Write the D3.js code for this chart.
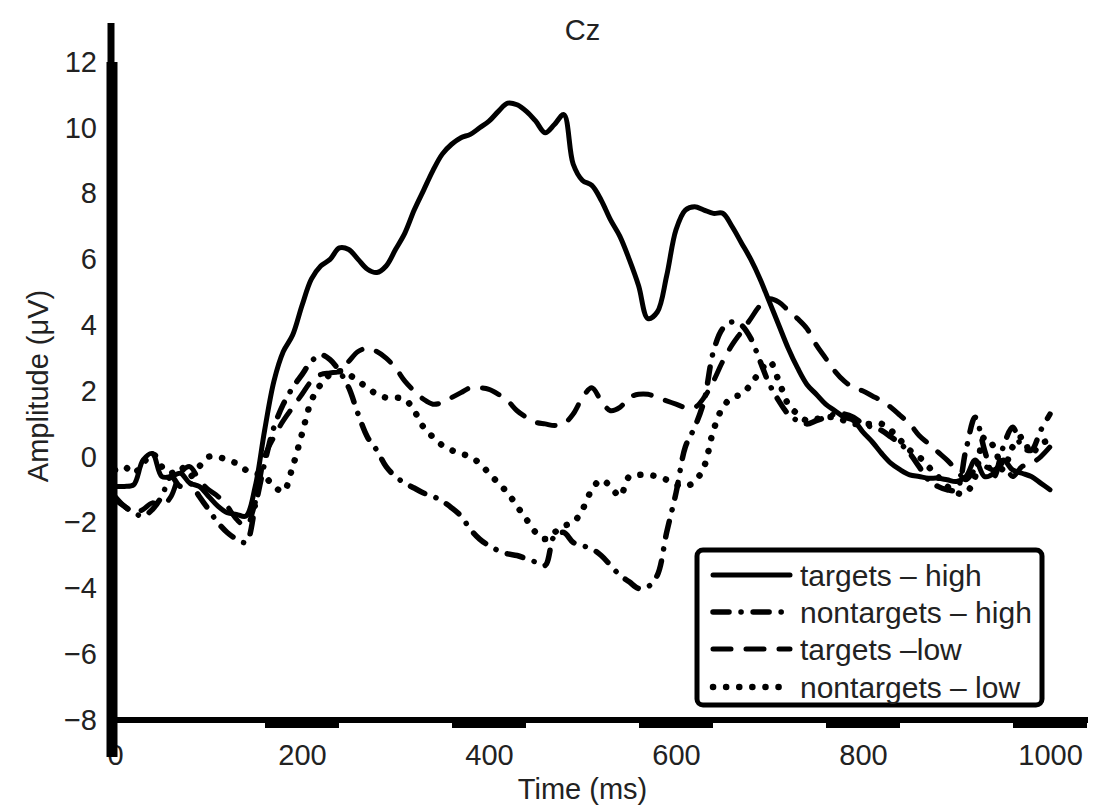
<!DOCTYPE html>
<html>
<head>
<meta charset="utf-8">
<script src="https://cdn.jsdelivr.net/npm/d3@7"></script>
<style>
  body { margin: 0; background: #fff; }
  text { font-family: "Liberation Sans", Arial, Helvetica, sans-serif; fill: #222; }
</style>
</head>
<body>
<script>
// sample grid of the ERP traces (ms)
const timeMs = d3.range(0, 1001, 10);

// amplitudes in microvolts, one value per 10 ms
const targetsHigh = [
  -0.9, -0.9, -0.85, -0.1, 0.1, -0.6, -0.6, -0.5, -0.8, -0.9,
  -1.2, -1.5, -1.7, -1.75, -1.8, -0.9, 0.8, 2.3, 3.2, 3.7,
  4.6, 5.4, 5.8, 6.0, 6.35, 6.3, 6.0, 5.7, 5.6, 5.8,
  6.3, 6.8, 7.5, 8.1, 8.7, 9.2, 9.5, 9.7, 9.8, 10.0,
  10.2, 10.5, 10.75, 10.7, 10.5, 10.2, 9.85, 10.1, 10.4, 8.9,
  8.4, 8.25, 7.8, 7.2, 6.7, 6.0, 5.2, 4.2, 4.4, 5.5,
  6.9, 7.5, 7.6, 7.5, 7.4, 7.4, 7.0, 6.5, 6.0, 5.4,
  4.7, 4.0, 3.3, 2.7, 2.2, 1.9, 1.6, 1.4, 1.2, 1.1,
  0.75, 0.45, 0.1, -0.2, -0.4, -0.55, -0.6, -0.65, -0.65, -0.7,
  -0.75, -0.6, -0.1, -0.6, -0.5, -0.1, -0.4, -0.5, -0.6, -0.8,
  -1.0
];

const nontargetsHigh = [
  -1.3, -1.5, -1.7, -1.8, -1.6, -1.2, -0.6, -0.9, -0.8, -1.2,
  -1.6, -2.0, -2.3, -2.5, -2.6, -1.5, -0.2, 0.9, 1.6, 2.1,
  2.5, 2.9, 3.1, 2.95, 2.6, 2.1, 1.3, 0.6, 0.2, -0.3,
  -0.6, -0.8, -0.95, -1.1, -1.2, -1.35, -1.55, -1.8, -2.2, -2.5,
  -2.7, -2.85, -2.95, -3.0, -3.1, -3.2, -3.3, -2.4, -2.3, -2.6,
  -2.7, -2.8, -3.0, -3.3, -3.6, -3.8, -4.0, -3.95, -3.6, -2.3,
  -1.1, 0.3, 0.9, 1.7, 3.2, 3.9, 4.1, 4.0, 3.6, 2.9,
  2.2, 1.7, 1.3, 1.1, 1.0, 1.1, 1.2, 1.3, 1.3, 1.2,
  1.0, 0.9, 0.8, 0.6, 0.4, 0.1, -0.3, -0.7, -0.9, -1.0,
  -1.0, 0.2, 1.2, 0.2, -0.6, 0.3, 0.9, 0.3, 0.2, 0.8,
  1.3
];

const targetsLow = [
  -1.2, -1.5, -1.7, -1.6, -1.4, -1.5, -1.2, -0.5, -0.3, -0.7,
  -1.0, -1.2, -1.5, -1.9, -2.1, -1.4, 0.0, 0.6, 1.1, 1.5,
  1.9, 2.3, 2.5, 2.55, 2.6, 2.9, 3.2, 3.3, 3.2, 3.0,
  2.7, 2.3, 2.0, 1.75, 1.6, 1.65, 1.8, 1.95, 2.1, 2.1,
  2.05, 1.9, 1.7, 1.4, 1.2, 1.05, 1.0, 0.95, 1.0, 1.3,
  1.8, 2.1, 1.7, 1.4, 1.5, 1.8, 1.9, 1.9, 1.8, 1.7,
  1.6, 1.5, 1.5, 1.8, 2.3, 2.9, 3.4, 3.8, 4.2, 4.6,
  4.8, 4.7, 4.45, 4.2, 3.9, 3.4, 3.0, 2.6, 2.3, 2.1,
  2.0, 1.85, 1.7, 1.5, 1.25, 1.0, 0.65, 0.4, 0.15, -0.1,
  -0.4, -0.7, -0.4, -0.3, -0.4, -0.2, -0.6, -0.3, -0.2, 0.0,
  0.3
];

const nontargetsLow = [
  -0.4, -0.3, -0.5, -0.2, 0.1, -0.3, -0.5, -0.3, -0.6, -0.3,
  0.0, 0.0, -0.1, -0.2, -0.4, -0.5, -0.6, -0.9, -1.05, -0.3,
  0.7, 1.7, 2.2, 2.5, 2.6, 2.5, 2.3, 2.1, 1.9, 1.8,
  1.8, 1.75, 1.4, 0.9, 0.6, 0.35, 0.2, 0.1, 0.0, -0.2,
  -0.5, -0.8, -1.1, -1.5, -1.9, -2.3, -2.5, -2.3, -2.1, -2.0,
  -1.6, -1.0, -0.7, -0.9, -1.2, -0.6, -0.55, -0.55, -0.6, -0.7,
  -0.85, -0.9, -0.75, -0.3, 0.8, 1.5, 1.8, 1.9, 2.2, 2.6,
  2.9, 2.3, 1.6, 1.3, 1.1, 1.15, 1.2, 1.2, 1.1, 1.0,
  1.0, 1.0, 1.0, 0.8, 0.5, 0.2, 0.0, -0.3, -0.6, -0.9,
  -1.1, -1.1, -0.6, 0.6, 0.3, -0.4, 0.3, 0.6, 0.1, 0.4,
  0.5
];

const seriesNames = ['targets \u2013 high', 'nontargets \u2013 high', 'targets \u2013low', 'nontargets \u2013 low'];
const xTicks = [0, 200, 400, 600, 800, 1000];
const yTicks = [-8, -6, -4, -2, 0, 2, 4, 6, 8, 10, 12];

const width = 1094;
const height = 809;

const series = [
  { name: seriesNames[0], values: targetsHigh, dash: null, sw: 5 },
  { name: seriesNames[1], values: nontargetsHigh, dash: '16 12 0.1 12', sw: 5.5 },
  { name: seriesNames[2], values: targetsLow, dash: '18 15', sw: 5 },
  { name: seriesNames[3], values: nontargetsLow, dash: '0.1 13', sw: 6.5 }
];

const x = d3.scaleLinear().domain([0, 1000]).range([115, 1050]);
const y = d3.scaleLinear().domain([-8, 12]).range([720, 62]);

const svg = d3.select('body')
  .append('svg')
  .attr('width', width)
  .attr('height', height);

// title
svg.append('text')
  .attr('x', x(500))
  .attr('y', 40)
  .attr('text-anchor', 'middle')
  .style('font-size', '29px')
  .text('Cz');

// traces
const line = d3.line()
  .x((d, i) => x(timeMs[i]))
  .y(d => y(d))
  .curve(d3.curveCatmullRom.alpha(0.5));

svg.selectAll('.trace')
  .data(series)
  .enter().append('path')
  .attr('class', 'trace')
  .attr('d', d => line(d.values))
  .attr('fill', 'none')
  .attr('stroke', '#000')
  .attr('stroke-width', d => d.sw)
  .attr('stroke-linejoin', 'round')
  .attr('stroke-linecap', 'round')
  .attr('stroke-dasharray', d => d.dash);

// axes (labels only, thick lines drawn separately)
const yAxis = svg.append('g')
  .attr('transform', `translate(112,0)`)
  .call(d3.axisLeft(y).tickValues(yTicks).tickSize(0).tickPadding(15));
yAxis.select('.domain').remove();
yAxis.selectAll('text').style('font-size', '29px').style('fill', '#222');

const xAxis = svg.append('g')
  .attr('transform', `translate(0,720)`)
  .call(d3.axisBottom(x).tickValues(xTicks).tickFormat(d3.format('d')).tickSize(0).tickPadding(24));
xAxis.select('.domain').remove();
xAxis.selectAll('text').style('font-size', '29px').style('fill', '#222');

// thick tick bars under the x axis
svg.selectAll('.tickbar')
  .data(xTicks.filter(d => d > 0))
  .enter().append('rect')
  .attr('class', 'tickbar')
  .attr('x', d => x(d) - 37)
  .attr('y', 717)
  .attr('width', 74)
  .attr('height', 11)
  .attr('fill', '#000');

svg.append('line')
  .attr('x1', 110).attr('x2', 1088)
  .attr('y1', 720).attr('y2', 720)
  .attr('stroke', '#000')
  .attr('stroke-width', 6);

svg.append('line')
  .attr('x1', 112).attr('x2', 112)
  .attr('y1', y(12)).attr('y2', 757)
  .attr('stroke', '#000')
  .attr('stroke-width', 11);

svg.append('line')
  .attr('x1', 111).attr('x2', 111)
  .attr('y1', 23).attr('y2', y(12))
  .attr('stroke', '#000')
  .attr('stroke-width', 7);

// axis titles
svg.append('text')
  .attr('x', x(500))
  .attr('y', 799)
  .attr('text-anchor', 'middle')
  .style('font-size', '29px')
  .text('Time (ms)');

svg.append('text')
  .attr('transform', `translate(48,${(y(-8) + y(12)) / 2 - 5}) rotate(-90)`)
  .attr('text-anchor', 'middle')
  .style('font-size', '29px')
  .text('Amplitude (\u03bcV)');

// legend
const legend = svg.append('g');

legend.append('rect')
  .attr('x', 697)
  .attr('y', 550)
  .attr('width', 345)
  .attr('height', 155)
  .attr('rx', 6)
  .attr('fill', '#fff')
  .attr('stroke', '#000')
  .attr('stroke-width', 5);

const rowY = [575, 612, 649, 687];

const item = legend.selectAll('.item')
  .data(series)
  .enter().append('g')
  .attr('class', 'item')
  .attr('transform', (d, i) => `translate(0,${rowY[i]})`);

item.append('line')
  .attr('x1', 713).attr('x2', 790)
  .attr('stroke', '#000')
  .attr('stroke-width', d => d.sw)
  .attr('stroke-linecap', 'round')
  .attr('stroke-dasharray', d => d.dash);

item.append('text')
  .attr('x', 800)
  .attr('dy', '0.35em')
  .style('font-size', '30px')
  .text(d => d.name);
</script>
</body>
</html>
